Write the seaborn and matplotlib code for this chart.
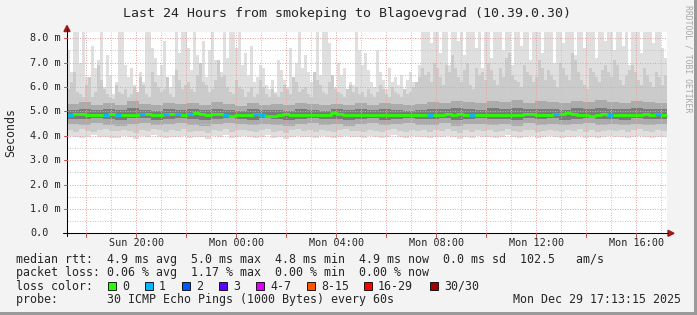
import numpy as np
import pandas as pd
import matplotlib
matplotlib.use("Agg")
import matplotlib.pyplot as plt
import matplotlib.transforms as mtrans
from matplotlib.lines import Line2D
from matplotlib.patches import Rectangle, Polygon
import seaborn as sns

sns.set_style("white")
plt.rcParams["font.family"] = ["DejaVu Sans Mono"]

# ---------------- data (hours since Sun 00:00) ----------------
T_START = 17.233
T_END = 41.233

# highest ping per 3-px column (200 columns), ms
hi = [7.5, 6.6, 8.3, 8.3, 7.0, 8.3, 6.4, 5.9, 7.7, 6.8,
      7.1, 8.3, 6.0, 7.3, 6.5, 5.7, 6.2, 8.3, 8.3, 6.9,
      6.4, 6.8, 6.1, 5.8, 6.6, 6.2, 8.3, 8.3, 7.6, 7.2,
      6.5, 6.9, 7.9, 6.3, 6.0, 6.5, 8.3, 7.4, 8.3, 8.3,
      7.6, 6.7, 8.3, 7.3, 7.0, 7.9, 6.4, 7.5, 8.3, 7.1,
      6.3, 6.6, 8.3, 7.2, 8.3, 8.3, 7.6, 8.3, 6.9, 7.4,
      6.5, 7.7, 6.2, 6.4, 6.9, 6.8, 6.1, 5.9, 6.3, 5.8,
      7.1, 6.7, 6.3, 6.0, 7.6, 6.4, 7.0, 8.3, 6.8, 7.3,
      6.6, 6.2, 5.9, 8.3, 6.5, 8.3, 8.3, 7.8, 6.4, 6.0,
      7.0, 6.5, 6.8, 5.9, 6.2, 6.1, 8.3, 7.5, 6.9, 7.4,
      6.7, 6.2, 6.0, 7.5, 6.6, 6.3, 5.9, 6.8, 6.2, 6.4,
      6.1, 6.5, 5.9, 6.3, 6.6, 6.2, 5.8, 6.9, 8.3, 8.3,
      8.3, 7.8, 8.3, 8.3, 7.4, 8.3, 8.3, 6.9, 8.3, 8.3,
      7.9, 8.3, 7.3, 8.3, 8.3, 8.3, 7.6, 8.3, 6.8, 8.3,
      8.3, 7.2, 8.3, 8.3, 8.3, 7.5, 8.3, 8.3, 6.9, 8.3,
      8.3, 7.7, 8.3, 8.3, 7.1, 8.3, 8.3, 8.3, 7.4, 8.3,
      8.3, 8.3, 7.0, 8.3, 8.3, 7.8, 8.3, 8.3, 8.3, 7.3,
      8.3, 8.3, 7.6, 8.3, 8.3, 8.3, 7.2, 8.3, 8.3, 7.9,
      8.3, 8.3, 7.5, 8.3, 8.3, 7.7, 8.3, 6.9, 8.3, 8.3,
      8.3, 7.4, 8.3, 8.3, 8.3, 7.8, 8.3, 8.3, 7.6, 7.2]

# 90th percentile ping per 3-px column (200 columns)
p90 = [5.9, 6.2, 6.6, 5.8, 5.7, 5.6, 6.1, 6.4, 5.6, 5.8, 6.9, 6.3, 5.9, 5.7, 5.6, 5.5, 6.1, 5.8, 5.7, 5.9,
       5.6, 5.7, 6.0, 5.8, 6.4, 6.1, 5.7, 5.6, 6.6, 6.2, 6.0, 5.8, 5.9, 6.4, 5.7, 5.6, 6.7, 6.3, 5.9, 6.1,
       6.2, 5.9, 5.8, 6.5, 7.0, 6.2, 6.1, 5.8, 5.9, 6.3, 7.1, 6.4, 6.5, 6.0, 5.8, 5.7, 6.3, 6.0, 5.9, 5.6,
       5.8, 6.0, 5.6, 5.7, 6.3, 6.0, 5.7, 5.6, 5.9, 5.7, 5.6, 5.8, 6.1, 5.9, 5.7, 6.4, 6.2, 5.8, 5.9, 6.0,
       5.7, 5.6, 6.6, 6.3, 6.1, 5.8, 5.7, 6.2, 6.5, 5.9, 5.8, 5.7, 5.6, 5.9, 6.1, 5.8, 6.0, 5.7, 5.8, 5.6,
       5.9, 5.7, 5.6, 5.8, 6.1, 5.9, 5.7, 5.6, 6.0, 5.8, 5.7, 5.6, 5.9, 5.7, 5.8, 6.0, 6.2, 6.4, 6.8, 6.5,
       6.6, 6.2, 7.0, 6.8, 6.4, 6.1, 6.9, 6.6, 7.3, 6.8, 6.4, 6.2, 6.7, 7.0, 6.1, 5.9, 6.8, 6.5, 6.6, 6.3,
       7.0, 6.7, 6.3, 6.1, 6.8, 6.4, 7.2, 7.4, 6.5, 6.3, 6.2, 6.0, 6.9, 6.6, 6.5, 6.2, 6.4, 7.1, 6.8, 6.3,
       6.7, 6.5, 6.3, 6.0, 7.0, 6.8, 6.5, 6.3, 7.4, 7.1, 6.6, 6.3, 6.1, 5.9, 6.8, 6.6, 6.4, 6.2, 6.7, 6.9,
       6.6, 6.4, 7.1, 6.9, 6.3, 6.1, 6.5, 6.7, 6.9, 6.6, 6.3, 6.1, 6.8, 6.5, 6.2, 6.0, 6.6, 6.4, 6.1, 6.5]

# median rtt per 6-px column (100 columns)
med = [4.86, 4.90, 4.88, 4.84, 4.87, 4.85, 4.86, 4.88, 4.85, 4.87,
       4.86, 4.84, 4.88, 4.90, 4.86, 4.87, 4.91, 4.89, 4.88, 4.86,
       4.90, 4.92, 4.88, 4.85, 4.89, 4.90, 4.87, 4.83, 4.86, 4.84,
       4.85, 4.88, 4.86, 4.83, 4.82, 4.86, 4.88, 4.87, 4.87, 4.86,
       4.85, 4.84, 4.87, 4.86, 4.93, 4.89, 4.86, 4.85, 4.84, 4.86,
       4.84, 4.87, 4.85, 4.86, 4.84, 4.87, 4.85, 4.86, 4.84, 4.86,
       4.84, 4.86, 4.85, 4.88, 4.86, 4.89, 4.87, 4.86, 4.85, 4.86,
       4.84, 4.86, 4.85, 4.87, 4.86, 4.85, 4.88, 4.89, 4.86, 4.87,
       4.87, 4.88, 4.90, 4.95, 4.90, 4.86, 4.85, 4.80, 4.86, 4.88,
       4.87, 4.86, 4.85, 4.86, 4.84, 4.86, 4.88, 4.87, 4.89, 4.87]

# lost pings per 6-px column (100 columns)
loss = [1, 0, 0, 0, 0, 0, 1, 0, 1, 0,
        0, 0, 1, 0, 0, 0, 1, 0, 1, 0,
        1, 0, 0, 0, 0, 0, 1, 0, 0, 0,
        0, 1, 1, 0, 0, 0, 0, 0, 0, 0,
        0, 0, 0, 0, 0, 0, 0, 0, 0, 0,
        0, 0, 0, 0, 0, 0, 0, 0, 0, 0,
        1, 0, 0, 0, 0, 0, 0, 1, 0, 0,
        0, 0, 0, 0, 0, 0, 0, 0, 0, 0,
        0, 1, 0, 0, 0, 0, 0, 0, 0, 0,
        1, 0, 0, 0, 0, 0, 0, 0, 1, 0]

# lowest ping and 10th percentile per 6-px column (100 columns)
lo = [3.98, 3.93, 3.90, 3.96, 4.02, 3.94, 3.97, 3.89, 3.92, 4.00,
      3.95, 3.88, 3.99, 3.93, 4.04, 3.96, 3.91, 3.97, 3.94, 4.01,
      3.90, 3.96, 3.93, 3.87, 3.98, 3.95, 4.03, 3.92, 3.96, 3.99,
      3.94, 3.90, 3.97, 4.02, 3.91, 3.95, 3.88, 3.96, 4.00, 3.93,
      3.97, 3.92, 3.99, 3.94, 3.89, 3.96, 4.01, 3.93, 3.95, 3.90,
      3.98, 3.94, 3.91, 3.97, 4.02, 3.95, 3.92, 3.99, 3.94, 3.96,
      3.90, 3.97, 3.93, 4.00, 3.95, 3.88, 3.96, 3.92, 3.99, 3.94,
      3.97, 3.91, 3.95, 4.02, 3.93, 3.89, 3.96, 3.99, 3.92, 3.95,
      3.98, 3.93, 3.90, 3.97, 3.94, 4.01, 3.92, 3.96, 3.89, 3.95,
      3.99, 3.93, 3.97, 3.91, 3.96, 4.00, 3.94, 3.90, 3.97, 3.95]
p10 = [4.22, 4.17, 4.26, 4.19, 4.14, 4.23, 4.28, 4.18, 4.21, 4.25,
       4.19, 4.13, 4.24, 4.20, 4.29, 4.22, 4.16, 4.23, 4.19, 4.27,
       4.15, 4.21, 4.18, 4.12, 4.24, 4.20, 4.28, 4.17, 4.22, 4.25,
       4.19, 4.15, 4.23, 4.27, 4.16, 4.21, 4.13, 4.22, 4.26, 4.18,
       4.23, 4.17, 4.25, 4.20, 4.14, 4.22, 4.27, 4.18, 4.21, 4.15,
       4.24, 4.19, 4.16, 4.23, 4.28, 4.21, 4.17, 4.25, 4.19, 4.22,
       4.15, 4.23, 4.18, 4.26, 4.21, 4.13, 4.22, 4.17, 4.25, 4.20,
       4.23, 4.16, 4.21, 4.28, 4.18, 4.14, 4.22, 4.25, 4.17, 4.21,
       4.24, 4.18, 4.15, 4.23, 4.20, 4.27, 4.17, 4.22, 4.14, 4.21,
       4.25, 4.18, 4.23, 4.16, 4.22, 4.26, 4.20, 4.15, 4.23, 4.21]

# inner percentiles per 12-px column (50 columns)
p25 = [4.48, 4.44, 4.51, 4.46, 4.42, 4.49, 4.53, 4.45, 4.47, 4.52,
       4.46, 4.41, 4.49, 4.54, 4.47, 4.43, 4.50, 4.46, 4.40, 4.48,
       4.51, 4.45, 4.49, 4.42, 4.47, 4.53, 4.44, 4.48, 4.51, 4.43,
       4.46, 4.52, 4.40, 4.48, 4.50, 4.45, 4.48, 4.42, 4.51, 4.46,
       4.49, 4.43, 4.47, 4.53, 4.45, 4.48, 4.44, 4.50, 4.46, 4.49]
p40 = [4.70, 4.67, 4.72, 4.68, 4.65, 4.71, 4.73, 4.66, 4.69, 4.72,
       4.68, 4.64, 4.70, 4.74, 4.69, 4.66, 4.71, 4.68, 4.63, 4.70,
       4.72, 4.67, 4.70, 4.65, 4.69, 4.73, 4.66, 4.70, 4.72, 4.67,
       4.69, 4.72, 4.64, 4.70, 4.71, 4.67, 4.70, 4.65, 4.72, 4.68,
       4.71, 4.66, 4.69, 4.73, 4.67, 4.70, 4.66, 4.71, 4.68, 4.70]
p60 = [5.06, 5.10, 5.04, 5.08, 5.05, 5.12, 5.07, 5.03, 5.09, 5.06,
       5.08, 5.04, 5.11, 5.06, 5.02, 5.09, 5.05, 5.07, 5.03, 5.08,
       5.06, 5.03, 5.08, 5.05, 5.10, 5.04, 5.09, 5.06, 5.03, 5.07,
       5.10, 5.08, 5.13, 5.09, 5.06, 5.12, 5.08, 5.14, 5.09, 5.11,
       5.10, 5.07, 5.13, 5.09, 5.15, 5.10, 5.08, 5.12, 5.09, 5.08]
p75 = [5.30, 5.38, 5.25, 5.34, 5.28, 5.41, 5.32, 5.26, 5.36, 5.29,
       5.33, 5.27, 5.39, 5.31, 5.24, 5.35, 5.28, 5.30, 5.26, 5.33,
       5.29, 5.25, 5.31, 5.27, 5.34, 5.28, 5.36, 5.30, 5.26, 5.32,
       5.40, 5.35, 5.44, 5.38, 5.33, 5.42, 5.37, 5.45, 5.36, 5.41,
       5.39, 5.34, 5.43, 5.37, 5.46, 5.40, 5.35, 5.42, 5.38, 5.36]

x_tick_hours = [20, 24, 28, 32, 36, 40]
x_tick_labels = ["Sun 20:00", "Mon 00:00", "Mon 04:00", "Mon 08:00", "Mon 12:00", "Mon 16:00"]
y_ticks = [0, 1, 2, 3, 4, 5, 6, 7, 8]
y_tick_labels = ["0.0", "1.0 m", "2.0 m", "3.0 m", "4.0 m", "5.0 m", "6.0 m", "7.0 m", "8.0 m"]

title = "Last 24 Hours from smokeping to Blagoevgrad (10.39.0.30)"
row_rtt = "median rtt:  4.9 ms avg  5.0 ms max  4.8 ms min  4.9 ms now  0.0 ms sd  102.5   am/s"
row_loss = "packet loss: 0.06 % avg  1.17 % max  0.00 % min  0.00 % now"
row_probe = "probe:       30 ICMP Echo Pings (1000 Bytes) every 60s"
stamp = "Mon Dec 29 17:13:15 2025"
loss_labels = ["0", "1", "2", "3", "4-7", "8-15", "16-29", "30/30"]
loss_colors = ["#26ff00", "#00b8ff", "#0059ff", "#5e00ff", "#dd00ff", "#ff5500", "#ff0000", "#a10000"]

# ---------------- layout helpers ----------------
W, H = 697, 315
def fx(x):
    return x / W
def fy(y):
    return 1 - y / H

X0, X1 = 67, 667
Y0, YT = 233.3, 31.5
PX_PER_MS = 24.38

fig = plt.figure(figsize=(W / 100, H / 100), dpi=100)
fig.patch.set_facecolor("#f3f3f3")
ax = fig.add_axes([fx(X0), fy(Y0), (X1 - X0) / W, (Y0 - YT) / H])
ax.set_facecolor("white")
ax.set_xlim(T_START, T_END)
ax.set_ylim(0, (Y0 - YT) / PX_PER_MS)
for s in ax.spines.values():
    s.set_visible(False)

# smoke
e200 = np.linspace(T_START, T_END, len(hi) + 1)
def st(a, rep):
    v = np.repeat(np.asarray(a, float), rep)
    return np.append(v, v[-1])

ax.fill_between(e200, st(lo, 2), st(hi, 1), step="post", color="#dfdfdf", lw=0, zorder=1)
ax.fill_between(e200, st(p10, 2), st(p90, 1), step="post", color="#cbcbcb", lw=0, zorder=1.1)
ax.fill_between(e200, st(p25, 4), st(p75, 4), step="post", color="#ababab", lw=0, zorder=1.2)
ax.fill_between(e200, st(p40, 4), st(p60, 4), step="post", color="#7a7a7a", lw=0, zorder=1.3)

# median line
e100 = np.linspace(T_START, T_END, len(med) + 1)
df = pd.DataFrame({"t": e100, "med": np.append(med, med[-1])})
sns.lineplot(data=df, x="t", y="med", drawstyle="steps-post", color=loss_colors[0],
             lw=2.0, ax=ax, zorder=3, errorbar=None)
la = np.asarray(loss)
mv = np.asarray(med)
for k in (1, 2, 3):
    idx = np.nonzero(la == k)[0]
    if len(idx):
        ax.hlines(mv[idx], e100[idx], e100[idx + 1], color=loss_colors[k], lw=2.0, zorder=4)

# grid (dotted, drawn over the smoke as rrdtool does)
ax.set_xticks(np.arange(18, 42, 2))
ax.set_xticks(np.arange(18, 42, 1), minor=True)
ax.set_yticks(np.arange(0, 9, 1))
ax.set_yticks(np.arange(0.5, 8.5, 1), minor=True)
ax.grid(which="major", color="#e6a3a3", ls=(0, (1, 1.5)), lw=0.72)
ax.grid(which="minor", color="#c6c6c6", ls=(0, (1, 1.5)), lw=0.72)
ax.set_axisbelow(False)
ax.tick_params(which="both", length=0, labelbottom=False, labelleft=False)
ax.set_xlabel("")
ax.set_ylabel("")

# axis lines, ticks, arrows
fig.add_artist(Line2D([fx(X0), fx(668)], [fy(Y0), fy(Y0)], color="black", lw=0.75))
fig.add_artist(Line2D([fx(X0), fx(X0)], [fy(236), fy(29)], color="black", lw=0.75))
fig.add_artist(Line2D([fx(63), fx(X0)], [fy(Y0), fy(Y0)], color="black", lw=0.75))
bt = mtrans.blended_transform_factory(ax.transData, fig.transFigure)
for h in range(18, 42, 2):
    fig.add_artist(Line2D([h, h], [fy(Y0), fy(236.5)], transform=bt, color="#d05050", lw=0.75))
lt = mtrans.blended_transform_factory(fig.transFigure, ax.transData)
for v in range(1, 9):
    fig.add_artist(Line2D([fx(64), fx(X0)], [v, v], transform=lt, color="#d05050", lw=0.75))
fig.add_artist(Polygon([[fx(674), fy(Y0)], [fx(668), fy(Y0 - 3)], [fx(668), fy(Y0 + 3)]],
                       closed=True, transform=fig.transFigure, color="#a01818"))
fig.add_artist(Polygon([[fx(X0), fy(25.5)], [fx(X0 - 3), fy(31.5)], [fx(X0 + 3), fy(31.5)]],
                       closed=True, transform=fig.transFigure, color="#a01818"))

# tick labels
for h, lab in zip(x_tick_hours, x_tick_labels):
    fig.text(h, fy(242.5), lab, transform=bt, ha="center", va="center", fontsize=7.3)
for v, lab in zip(y_ticks, y_tick_labels):
    fig.text(fx(30), v, lab, transform=lt, ha="left", va="center", fontsize=7.3)

# title, axis label, watermark
fig.text(fx(347), fy(14), title, ha="center", va="center", fontsize=9.5)
fig.text(fx(11), fy((Y0 + YT) / 2), "Seconds", rotation=90, ha="center", va="center", fontsize=8.4)
fig.text(fx(688), fy(5), "RRDTOOL / TOBI OETIKER", rotation=270, ha="center", va="top",
         fontsize=5.9, color="#a8a8a8")

# legend rows
FS = 8.4
fig.text(fx(16), fy(259), row_rtt, ha="left", va="center", fontsize=FS)
fig.text(fx(16), fy(272.5), row_loss, ha="left", va="center", fontsize=FS)
fig.text(fx(16), fy(286), "loss color:", ha="left", va="center", fontsize=FS)
box_x = [108, 145, 182, 219, 256, 307, 364, 430]
for bx, lab, col in zip(box_x, loss_labels, loss_colors):
    fig.add_artist(Rectangle((fx(bx), fy(289.5)), 8 / W, 8 / H, transform=fig.transFigure,
                             facecolor=col, edgecolor="black", lw=0.6))
    fig.text(fx(bx + 14), fy(286), lab, ha="left", va="center", fontsize=FS)
fig.text(fx(16), fy(299.5), row_probe, ha="left", va="center", fontsize=FS)
fig.text(fx(681), fy(299.5), stamp, ha="right", va="center", fontsize=FS)

# frame shading
fig.add_artist(Rectangle((fx(694), 0), 3 / W, 1, transform=fig.transFigure, color="#9a9a9a", lw=0))
fig.add_artist(Rectangle((0, 0), 1, 3 / H, transform=fig.transFigure, color="#9a9a9a", lw=0))

fig.savefig("out.png", dpi=100, facecolor=fig.get_facecolor())
